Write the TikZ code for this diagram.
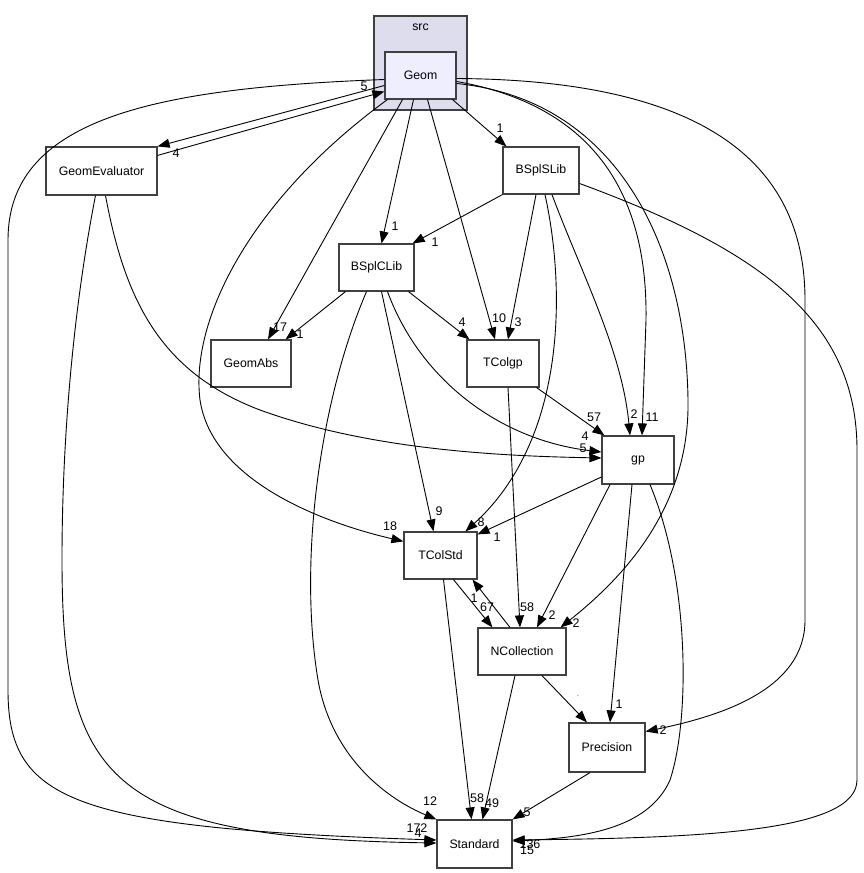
\documentclass[tikz,border=0pt]{standalone}
\usepackage{fontspec}
\setmainfont{Liberation Sans}
\usetikzlibrary{arrows.meta}
\definecolor{clusterFill}{RGB}{221,221,238}
\definecolor{curFill}{RGB}{238,238,255}
\definecolor{boxLine}{RGB}{64,64,64}

\begin{document}
\begin{tikzpicture}[x=1pt,y=-1pt,>={Triangle[length=12pt,width=9pt]},
  dir/.style={draw=boxLine,line width=1.2pt,fill=white,inner sep=0pt,font=\fontsize{12.3}{14}\selectfont},
  dep/.style={->,line width=0.9pt},
  lbl/.style={inner sep=0pt,font=\fontsize{12.5}{12}\selectfont}]
\useasboundingbox (0,0) rectangle (863,873);
% cluster
\node[draw=boxLine,line width=1.2pt,fill=clusterFill,minimum width=93pt,minimum height=94pt] (src) at (420.5,63) {};
\node[lbl,font=\fontsize{12.3}{14}\selectfont] (srclabel) at (420.5,27) {src};
% directories
\node[dir,fill=curFill,minimum width=71pt,minimum height=47pt] (Geom) at (420.5,75.5) {Geom};
\node[dir,minimum width=111pt,minimum height=48pt] (GeomEvaluator) at (101.5,171) {GeomEvaluator};
\node[dir,minimum width=76pt,minimum height=47pt] (BSplSLib) at (541,170.5) {BSplSLib};
\node[dir,minimum width=75pt,minimum height=47pt] (BSplCLib) at (376.5,267.5) {BSplCLib};
\node[dir,minimum width=80pt,minimum height=47pt] (GeomAbs) at (251,363.5) {GeomAbs};
\node[dir,minimum width=72pt,minimum height=47pt] (TColgp) at (503,363.5) {TColgp};
\node[dir,minimum width=72pt,minimum height=48pt] (gp) at (638,460) {gp};
\node[dir,minimum width=73pt,minimum height=47pt] (TColStd) at (440.5,555.5) {TColStd};
\node[dir,minimum width=88pt,minimum height=47pt] (NCollection) at (522,651.5) {NCollection};
\node[dir,minimum width=76pt,minimum height=49pt] (Precision) at (607,747.5) {Precision};
\node[dir,minimum width=75pt,minimum height=48pt] (Standard) at (474.5,844) {Standard};

% Geom
\draw[dep] ([yshift=-10pt]Geom.west) -- (GeomEvaluator.north east);
\draw[dep] ([yshift=-9pt]GeomEvaluator.north east) -- ([yshift=-16pt]Geom.west);
\draw[dep] ([yshift=-4pt]Geom.west) .. controls (150,88) and (8,120) .. (8,240) -- (8,690) .. controls (8,800) and (70,828) .. ([yshift=4pt]Standard.west);
\draw[dep] ([xshift=-4pt]Geom.south east) -- ([xshift=4pt]BSplSLib.north west);
\draw[dep] ([xshift=-7pt]Geom.south) -- ([xshift=5pt]BSplCLib.north);
\draw[dep] ([xshift=-18pt]Geom.south) -- ([xshift=17pt]GeomAbs.north);
\draw[dep] ([xshift=7pt]Geom.south) -- ([xshift=-8pt]TColgp.north);
\draw[dep] ([xshift=3pt]Geom.south west) .. controls (250,200) and (190,320) .. (200,400) .. controls (212,480) and (320,522) .. ([yshift=-10pt]TColStd.north west);
\draw[dep] ([yshift=-6pt]Geom.east) .. controls (590,105) and (648,190) .. (646,320) -- ([xshift=4pt]gp.north);
\draw[dep] ([yshift=-8pt]Geom.east) .. controls (620,100) and (686,250) .. (688,400) .. controls (690,510) and (620,580) .. ([xshift=-6pt]NCollection.north east);
\draw[dep] ([yshift=-3pt]Geom.east) .. controls (700,80) and (805,160) .. (805,300) -- (805,620) .. controls (805,690) and (720,716) .. ([yshift=16pt]Precision.east);
% GeomEvaluator
\draw[dep] ([xshift=-6pt]GeomEvaluator.south) .. controls (75,300) and (62,430) .. (62,560) .. controls (62,780) and (110,838) .. ([yshift=1pt]Standard.west);
\draw[dep] ([xshift=4pt]GeomEvaluator.south) .. controls (125,300) and (160,372) .. (260,410) .. controls (370,450) and (500,456) .. ([yshift=2pt]gp.west);
% BSplSLib
\draw[dep] (BSplSLib.south west) -- ([xshift=-2pt]BSplCLib.north east);
\draw[dep] ([xshift=-5pt]BSplSLib.south) -- ([xshift=5pt]TColgp.north);
\draw[dep] ([xshift=4pt]BSplSLib.south) .. controls (566,290) and (566,440) .. ([xshift=25pt]TColStd.north);
\draw[dep] ([xshift=11pt]BSplSLib.south) .. controls (580,270) and (622,350) .. ([xshift=-8pt]gp.north);
\draw[dep] ([yshift=-13pt]BSplSLib.east) .. controls (760,250) and (857,320) .. (857,450) -- (857,780) .. controls (857,832) and (700,838) .. ([yshift=4pt]Standard.east);
% BSplCLib
\draw[dep] ([xshift=-31pt]BSplCLib.south) -- ([xshift=-6pt]GeomAbs.north east);
\draw[dep] ([xshift=32pt]BSplCLib.south) -- ([xshift=3pt]TColgp.north west);
\draw[dep] ([xshift=11pt]BSplCLib.south) .. controls (420,380) and (500,440) .. ([yshift=8pt]gp.west);
\draw[dep] ([xshift=5pt]BSplCLib.south) -- ([xshift=-7pt]TColStd.north);
\draw[dep] ([xshift=-10pt]BSplCLib.south) .. controls (320,400) and (298,560) .. (318,680) .. controls (332,760) and (390,800) .. (Standard.north west);
% TColgp
\draw[dep] ([xshift=-3pt]TColgp.south east) -- ([xshift=3pt]gp.north west);
\draw[dep] ([xshift=5pt]TColgp.south) -- ([xshift=-2pt]NCollection.north);
% gp
\draw[dep] ([yshift=-17pt]gp.west) -- ([yshift=-3pt]TColStd.north east);
\draw[dep] ([xshift=-28pt]gp.south) -- ([xshift=15pt]NCollection.north);
\draw[dep] ([xshift=-6pt]gp.south) -- ([xshift=3pt]Precision.north);
\draw[dep] ([xshift=12pt]gp.south) .. controls (690,580) and (690,720) .. (670,780) .. controls (648,830) and (580,838) .. ([yshift=3pt]Standard.east);
% TColStd, NCollection, Precision
\draw[dep] ([xshift=13pt]TColStd.south) -- ([xshift=15pt]NCollection.north west);
\draw[dep] ([xshift=-12pt]NCollection.north) -- ([xshift=32pt]TColStd.south);
\draw[dep] ([xshift=3pt]TColStd.south) -- ([xshift=-3pt]Standard.north);
\draw[dep] ([xshift=-7pt]NCollection.south) -- ([xshift=8pt]Standard.north);
\draw[dep] ([xshift=20pt]NCollection.south) -- ([xshift=-20pt]Precision.north);
\draw[dep] ([xshift=-17pt]Precision.south) -- (Standard.north east);

% edge labels
\node[lbl] (lGeomEval) at (176,153) {4};
\node[lbl] (lEvalGeom) at (364,86) {5};
\node[lbl] (lGeomStd) at (417,828) {172};
\node[lbl] (lEvalStd) at (418,833) {4};
\node[lbl] (lGeomS) at (500,128) {1};
\node[lbl] (lGeomC) at (395,226) {1};
\node[lbl] (lGeomAbs) at (280,327) {17};
\node[lbl] (lCAbs) at (300,334) {1};
\node[lbl] (lGeomTgp) at (499,318) {10};
\node[lbl] (lSTgp) at (518,322) {3};
\node[lbl] (lCTgp) at (462,322) {4};
\node[lbl] (lSC) at (435,242) {1};
\node[lbl] (lTgpgp) at (594,417) {57};
\node[lbl] (lSgp) at (634,414) {2};
\node[lbl] (lGeomgp) at (652,417) {11};
\node[lbl] (lCgp) at (585,436) {4};
\node[lbl] (lEvalgp) at (583,448) {5};
\node[lbl] (lGeomTStd) at (390,526) {18};
\node[lbl] (lCTStd) at (439,511) {9};
\node[lbl] (lSTStd) at (481,522) {8};
\node[lbl] (lgpTStd) at (497,537) {1};
\node[lbl] (lNCTStd) at (474,598) {1};
\node[lbl] (lTStdNC) at (487,607) {67};
\node[lbl] (lTgpNC) at (527,607) {58};
\node[lbl] (lgpNC) at (552,615) {2};
\node[lbl] (lGeomNC) at (576,623) {2};
\node[lbl,font=\fontsize{6}{6}\selectfont] (lNCPrec) at (578,697) {'};
\node[lbl] (lgpPrec) at (619,704) {1};
\node[lbl] (lGeomPrec) at (663,730) {2};
\node[lbl] (lCStd) at (430,801) {12};
\node[lbl] (lTStdStd) at (477,798) {58};
\node[lbl] (lNCStd) at (492,803) {49};
\node[lbl] (lPrecStd) at (527,812) {5};
\node[lbl] (lgpStd) at (530,844) {136};
\node[lbl] (lSStd) at (527,850) {15};
\end{tikzpicture}
\end{document}
